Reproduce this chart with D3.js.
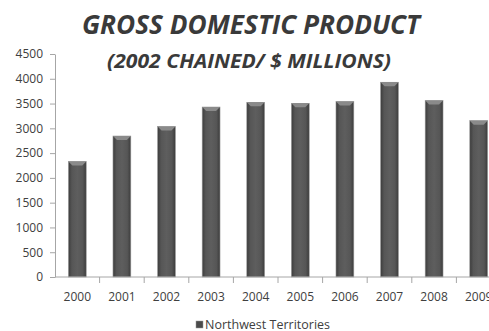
<!DOCTYPE html>
<html>
<head>
  <script src="https://cdn.jsdelivr.net/npm/d3@7"></script>
  <style>
    body { margin: 0; background: #fff; }
    text { font-family: "Open Sans", sans-serif; fill: #404040; }
  </style>
</head>
<body>
  <svg width="489" height="331"></svg>
  <script>
    var years = ["2000", "2001", "2002", "2003", "2004", "2005", "2006", "2007", "2008", "2009"];
    var gdp = [2330, 2845, 3035, 3430, 3525, 3505, 3540, 3930, 3560, 3155];
    var yTicks = [0, 500, 1000, 1500, 2000, 2500, 3000, 3500, 4000, 4500];
    var seriesName = "Northwest Territories";

    var svg = d3.select("svg");

    // x runs past the right edge like the original (2009 is cut off)
    var x = d3.scaleBand().domain(years).range([55, 501]).paddingInner(0.6).paddingOuter(0.3);
    var y = d3.scaleLinear().domain([0, 4500]).range([277, 54]);

    var defs = svg.append("defs");
    var grad = defs.append("linearGradient").attr("id", "barGrad");
    grad.append("stop").attr("offset", "0%").attr("stop-color", "#3c3c3c");
    grad.append("stop").attr("offset", "20%").attr("stop-color", "#565656");
    grad.append("stop").attr("offset", "50%").attr("stop-color", "#5e5e5e");
    grad.append("stop").attr("offset", "80%").attr("stop-color", "#565656");
    grad.append("stop").attr("offset", "100%").attr("stop-color", "#3c3c3c");

    // title
    svg.append("text")
      .attr("x", 251).attr("y", 34)
      .attr("text-anchor", "middle")
      .attr("textLength", 338).attr("lengthAdjust", "spacingAndGlyphs")
      .style("font-size", "27px").style("font-weight", "700").style("font-style", "italic")
      .style("fill", "#3a3a3a")
      .text("GROSS DOMESTIC PRODUCT");
    svg.append("text")
      .attr("x", 249).attr("y", 68)
      .attr("text-anchor", "middle")
      .attr("textLength", 284).attr("lengthAdjust", "spacingAndGlyphs")
      .style("font-size", "20px").style("font-weight", "700").style("font-style", "italic")
      .style("fill", "#3a3a3a")
      .text("(2002 CHAINED/ $ MILLIONS)");

    // bars
    var bars = svg.append("g").selectAll("g").data(years).join("g");
    bars.append("rect")
      .attr("x", function(d){ return x(d); })
      .attr("y", function(d, i){ return y(gdp[i]); })
      .attr("width", x.bandwidth())
      .attr("height", function(d, i){ return y(0) - y(gdp[i]); })
      .attr("fill", "url(#barGrad)")
      .attr("stroke", "#9a9a9a").attr("stroke-width", 0.6);
    // top bevel
    bars.append("path")
      .attr("d", function(d, i){
        var x0 = x(d), w = x.bandwidth(), t = y(gdp[i]);
        return "M" + x0 + "," + t + "H" + (x0 + w) + "L" + (x0 + w - 4) + "," + (t + 4) + "H" + (x0 + 4) + "Z";
      })
      .attr("fill", "#8a8a8a");

    // y axis
    var yAxis = svg.append("g").attr("transform", "translate(55,0)")
      .call(d3.axisLeft(y).tickValues(yTicks).tickFormat(d3.format("d")).tickSize(5).tickPadding(7).tickSizeOuter(0));
    yAxis.select(".domain").attr("stroke", "#a6a6a6");
    yAxis.selectAll(".tick line").attr("stroke", "#a6a6a6");
    yAxis.selectAll("text").style("font-size", "12px").style("fill", "#404040");

    // x axis with ticks between categories
    var xg = svg.append("g").attr("transform", "translate(0,277)");
    xg.append("line").attr("x1", 55).attr("x2", 501).attr("stroke", "#a6a6a6");
    xg.selectAll("line.tk").data(years).join("line").attr("class", "tk")
      .attr("x1", function(d){ return x(d) + x.bandwidth() / 2 + x.step() / 2; })
      .attr("x2", function(d){ return x(d) + x.bandwidth() / 2 + x.step() / 2; })
      .attr("y1", 0).attr("y2", 6).attr("stroke", "#a6a6a6");
    xg.selectAll("text").data(years).join("text")
      .attr("x", function(d){ return x(d) + x.bandwidth() / 2; })
      .attr("y", 24)
      .attr("text-anchor", "middle")
      .style("font-size", "12px")
      .text(function(d){ return d; });

    // legend
    var lg = svg.append("g").attr("transform", "translate(196,321)");
    lg.append("rect").attr("width", 7).attr("height", 7).attr("fill", "#4a4a4a").attr("stroke", "#999").attr("stroke-width", 0.5);
    lg.append("text").attr("x", 9).attr("y", 7.5).style("font-size", "12.5px").text(seriesName);
  </script>
</body>
</html>
